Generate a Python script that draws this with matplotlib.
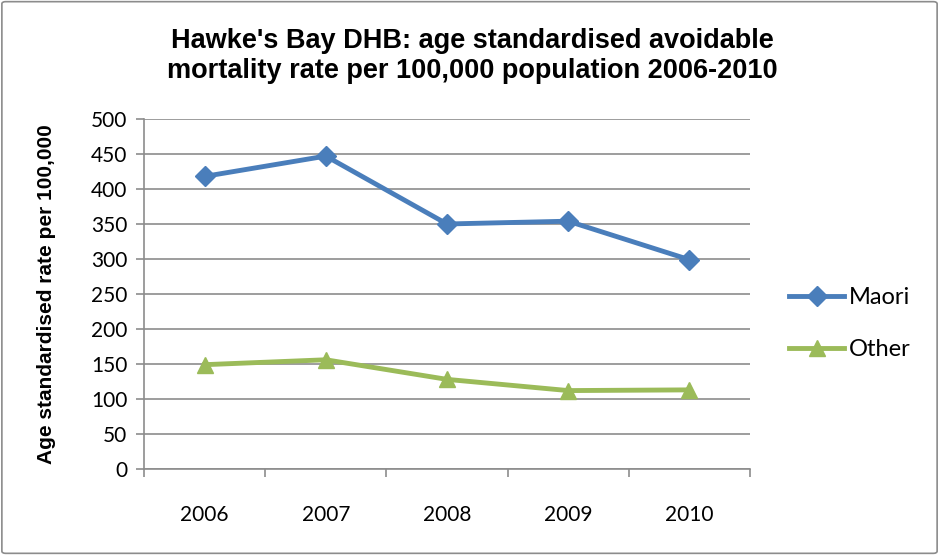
import matplotlib
matplotlib.use("Agg")
import matplotlib.pyplot as plt
from matplotlib.patches import FancyBboxPatch

# avoidable mortality, age standardised per 100,000
years = ["2006", "2007", "2008", "2009", "2010"]
maori = [418, 447, 350, 354, 299]
other = [149, 156, 128, 112, 113]
yticks = [0, 50, 100, 150, 200, 250, 300, 350, 400, 450, 500]

BLUE = "#4a7ebb"
GREEN = "#9bbb59"
GRID = "#8c8c8c"
TICK_FONT = "Lato"

fig = plt.figure(figsize=(9.39, 5.55), dpi=100, facecolor="white")
fig.patches.append(FancyBboxPatch((0.002, 0.003), 0.996, 0.994, boxstyle="round,pad=0,rounding_size=0.004",
                                  transform=fig.transFigure, fill=False, edgecolor="#8c8c8c", linewidth=1.2))
ax = fig.add_axes([0.1534, 0.155, 0.6453, 0.6306])

x = list(range(len(years)))
ax.plot(x, maori, color=BLUE, lw=3.5, marker="D", ms=10, label="Maori", solid_joinstyle="round")
ax.plot(x, other, color=GREEN, lw=3.5, marker="^", ms=11, label="Other", solid_joinstyle="round")

ax.set_xlim(-0.5, len(years) - 0.5)
ax.set_ylim(0, 500)
ax.set_yticks(yticks)
ax.set_yticklabels([str(v) for v in yticks], fontsize=15, family=TICK_FONT)
ax.set_xticks(x)
ax.set_xticklabels(years, fontsize=15, family=TICK_FONT)
ax.set_xticks([i - 0.5 for i in range(len(years) + 1)], minor=True)
ax.tick_params(axis="x", which="major", length=0, pad=26)
ax.tick_params(axis="x", which="minor", length=6, color=GRID, width=1.2)
ax.tick_params(axis="y", length=6, color=GRID, width=1.2, pad=6)
ax.grid(axis="y", color=GRID, lw=1.2)
ax.set_axisbelow(True)
for s in ("top", "right"):
    ax.spines[s].set_visible(False)
for s in ("left", "bottom"):
    ax.spines[s].set_color(GRID)
    ax.spines[s].set_linewidth(1.2)

ax.set_ylabel("Age standardised rate per 100,000", fontsize=15, fontweight="bold",
              family="Liberation Sans")
ax.yaxis.set_label_coords(-0.145, 0.5)
fig.suptitle("Hawke's Bay DHB: age standardised avoidable\nmortality rate per 100,000 population 2006-2010",
             x=0.503, y=0.95, fontsize=19.5, fontweight="bold", family="Liberation Sans",
             linespacing=1.22)

ax.legend(loc="center left", bbox_to_anchor=(1.03, 0.415), frameon=False,
          prop={"family": TICK_FONT, "size": 17}, handlelength=2.3, labelspacing=1.3, handletextpad=0.2)

fig.savefig("out.png", dpi=100, facecolor="white")
